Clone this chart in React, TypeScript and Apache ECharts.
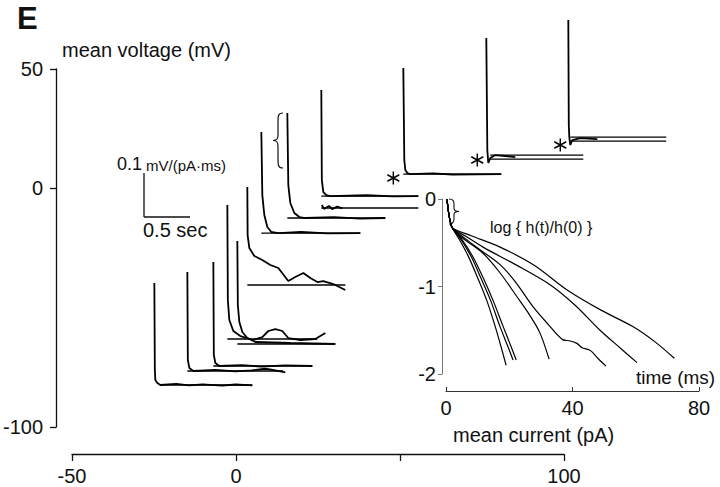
import React, { useEffect, useRef } from "react";
import * as echarts from "echarts";

// ---- axes ----
const voltageTicks = [-100, 0, 50];
const currentTicks = [-50, 0, 50, 100];
const currentLabels = [-50, 0, 100];
const timeTicks = [0, 40, 80];
const logTicks = [-2, -1, 0];

// ---- response traces, placed at (mean current pA, mean voltage mV) ----
const trace1 = [[-24.64, -39.67], [-24.49, -76.12], [-24.34, -80.31], [-23.73, -81.57], [-22.82, -82.4], [-18.0, -81.9], [-14.0, -82.6], [-10.0, -82.1], [-4.0, -82.7], [0.0, -82.2], [5.17, -82.6]];
const trace2 = [[-14.6, -35.06], [-14.45, -71.93], [-13.99, -75.28], [-12.78, -76.54], [-6.0, -76.1], [0.0, -76.7], [5.0, -76.3], [9.0, -75.6], [11.0, -76.0], [15.21, -77.1]];
const trace3 = [[-6.69, -30.88], [-6.54, -69.84], [-6.08, -73.19], [-4.87, -74.45], [2.0, -74.1], [8.0, -74.7], [15.0, -74.2], [23.43, -74.45]];
const trace4 = [[-2.43, -7.0], [-2.28, -46.8], [-1.83, -55.17], [-0.61, -59.78], [1.52, -61.88], [5.48, -63.55], [8.21, -62.3], [10.04, -59.78], [12.17, -58.95], [14.3, -59.78], [16.12, -62.72], [19.77, -63.55], [24.34, -63.13], [25.86, -61.88], [27.38, -60.63]];
const trace5 = [[0.61, -22.08], [0.76, -48.89], [1.22, -56.01], [2.13, -60.2], [3.65, -62.72], [6.08, -64.39], [16.73, -64.81], [30.42, -65.23]];
const trace6 = [[3.65, 0.54], [3.74, -19.56], [4.26, -25.01], [5.78, -28.36], [8.21, -30.04], [10.65, -32.13], [13.08, -33.39], [16.12, -38.84], [18.25, -37.16], [20.69, -35.49], [22.82, -37.58], [24.95, -39.26], [26.77, -38.84], [29.81, -40.09], [33.46, -42.61]];
const trace7 = [[7.91, 23.59], [8.21, -2.81], [8.82, -11.18], [9.74, -16.21], [10.95, -18.3], [13.08, -18.73], [20.0, -18.3], [28.0, -18.9], [38.03, -18.73]];
const trace8 = [[15.82, 31.55], [16.12, 1.38], [16.73, -6.16], [17.95, -10.35], [19.47, -12.03], [21.3, -12.44], [30.0, -12.1], [38.0, -12.7], [45.63, -12.44]];
const trace9 = [[26.16, 41.18], [26.32, 3.48], [26.77, -1.55], [27.68, -2.81], [28.9, -3.23], [40.0, -2.9], [48.0, -3.4], [55.67, -3.23]];
const trace9b = [[26.3, -7.0], [27.0, -8.6], [28.5, -7.4], [29.5, -8.7], [31.0, -7.6], [32.5, -8.4]];
const trace10 = [[51.11, 50.4], [51.41, 11.86], [51.72, 7.67], [52.33, 6.41], [53.24, 5.99], [60.0, 6.3], [66.0, 5.8], [80.92, 5.99]];
const trace11 = [[76.36, 62.97], [76.67, 16.05], [76.97, 10.6], [77.58, 12.69], [79.1, 13.95], [85.18, 13.11]];
const trace12 = [[101.31, 70.51], [101.46, 26.52], [101.61, 21.49], [101.92, 18.14], [102.53, 20.24], [104.96, 21.07], [110.13, 20.65]];

// straight reference lines: [start pA, end pA, level mV]
const refLines = [
  [-22.82, 5.17, -82.4],
  [-14.6, 14.6, -76.54],
  [-6.69, 23.43, -74.45],
  [-2.43, 24.95, -63.13],
  [0.61, 30.42, -65.23],
  [3.65, 33.46, -40.51],
  [7.91, 38.03, -18.73],
  [15.82, 45.63, -12.44],
  [26.16, 55.67, -3.23],
  [26.16, 55.67, -8.25],
  [51.11, 80.92, 5.99],
  [77.58, 105.87, 13.95],
  [77.58, 105.87, 12.27],
  [101.92, 131.12, 21.49],
  [101.92, 131.12, 19.82],
];

// asterisk marks (pA, mV)
const asterisks = [[48.07, 4.32], [73.62, 11.86], [98.87, 18.14]];

// ---- inset: log{h(t)/h(0)} vs time (ms) ----
const logCurve1 = [[0.3, 0], [0.8, -0.15], [1.3, -0.25], [2, -0.33], [4, -0.45], [7, -0.65], [10, -0.9], [13, -1.17], [15.5, -1.45], [17.5, -1.7], [19, -1.9]];
const logCurve2 = [[0.3, 0], [0.8, -0.15], [1.3, -0.25], [2, -0.33], [4.5, -0.45], [8, -0.66], [11, -0.9], [14, -1.15], [17, -1.45], [19.5, -1.68], [21.2, -1.84]];
const logCurve3 = [[0.3, 0], [0.8, -0.15], [1.3, -0.25], [2, -0.33], [5, -0.46], [8.5, -0.66], [12, -0.92], [15, -1.17], [18, -1.45], [20.5, -1.68], [22.2, -1.84]];
const logCurve4 = [[0.3, 0], [0.8, -0.15], [1.3, -0.25], [2, -0.33], [5, -0.44], [11.7, -0.62], [17, -0.84], [22.5, -1.12], [26.5, -1.33], [29.7, -1.53], [32.6, -1.83]];
const logCurve5 = [[0.3, 0], [0.8, -0.15], [1.3, -0.25], [2, -0.33], [6, -0.45], [10, -0.56], [17.1, -0.75], [22, -0.95], [27.5, -1.23], [32, -1.42], [37, -1.61], [39, -1.62], [41.4, -1.65], [43, -1.7], [45.6, -1.73], [48, -1.82], [50.6, -1.91]];
const logCurve6 = [[0.3, 0], [0.8, -0.15], [1.3, -0.25], [2, -0.33], [6, -0.42], [11.7, -0.55], [22, -0.75], [32.9, -0.98], [41, -1.22], [48.7, -1.5], [55, -1.7], [60.4, -1.87]];
const logCurve7 = [[0.3, 0], [0.8, -0.15], [1.3, -0.25], [2, -0.33], [8, -0.42], [17.1, -0.55], [28, -0.76], [38.3, -1.04], [49, -1.27], [59.2, -1.46], [66, -1.63], [72.2, -1.82]];

const FONT = '"Liberation Sans", Arial, Helvetica, sans-serif';

const leftBrace = "M10,0 C5,0 5,3 5,9 L5,22 C5,26 4,27.5 0,27.5 C4,27.5 5,29 5,33 L5,46 C5,52 5,55 10,55";
const rightBrace = "M0,0 C4,0 5,2 5,5 L5,9 C5,11.5 6,12.5 10,12.5 C6,12.5 5,13.5 5,16 L5,20 C5,23 4,25 0,25";

let registered = false;
function registerShapes() {
  if (registered) return;
  echarts.graphic.registerShape("leftBrace", echarts.graphic.extendPath(leftBrace, {}));
  echarts.graphic.registerShape("rightBrace", echarts.graphic.extendPath(rightBrace, {}));
  registered = true;
}

// main plot frame (px) and an overlay with the same scale but wider range for traces
const MAIN = { left: 71, top: 69, width: 493, height: 358 };
const pxPerPA = MAIN.width / 150;
const pxPerMV = MAIN.height / 150;
const overlayX = [-50, 140];
const overlayY = [-100, 75];

export default function App() {
  const ref = useRef<HTMLDivElement>(null);

  useEffect(() => {
    if (!ref.current) return;
    registerShapes();
    const chart = echarts.init(ref.current, null, { renderer: "svg" });

    const traces = [trace1, trace2, trace3, trace4, trace5, trace6, trace7, trace8, trace9, trace9b, trace10, trace11, trace12];
    const logCurves = [logCurve1, logCurve2, logCurve3, logCurve4, logCurve5, logCurve6, logCurve7];

    const series: any[] = [];
    traces.forEach((t) =>
      series.push({
        type: "line",
        xAxisIndex: 2,
        yAxisIndex: 2,
        data: t,
        symbol: "none",
        clip: false,
        silent: true,
        lineStyle: { color: "#000", width: 1.8 },
      })
    );
    refLines.forEach(([x0, x1, y]) =>
      series.push({
        type: "line",
        xAxisIndex: 2,
        yAxisIndex: 2,
        data: [[x0, y], [x1, y]],
        symbol: "none",
        clip: false,
        silent: true,
        lineStyle: { color: "#000", width: 1.3 },
      })
    );
    series.push({
      type: "scatter",
      xAxisIndex: 2,
      yAxisIndex: 2,
      data: asterisks,
      clip: false,
      silent: true,
      symbol: "path://M0,-6L0,6M-5.2,-3L5.2,3M-5.2,3L5.2,-3",
      symbolSize: [12, 13],
      itemStyle: { color: "none", borderColor: "#000", borderWidth: 1.5, opacity: 1 },
    });
    logCurves.forEach((c) =>
      series.push({
        type: "line",
        xAxisIndex: 1,
        yAxisIndex: 1,
        data: c,
        symbol: "none",
        smooth: 0.3,
        clip: false,
        silent: true,
        lineStyle: { color: "#000", width: 1.2 },
      })
    );

    const txt = (text: string, x: number, y: number, size: number, extra: any = {}) => ({
      type: "text",
      x,
      y,
      silent: true,
      style: {
        text,
        fill: "#111",
        font: `${extra.bold ? "bold " : ""}${size}px ${FONT}`,
        textVerticalAlign: "middle",
        textAlign: extra.align || "left",
      },
    });

    const ovWidth = (overlayX[1] - overlayX[0]) * pxPerPA;
    const ovHeight = (overlayY[1] - overlayY[0]) * pxPerMV;
    const ovTop = MAIN.top + MAIN.height - ovHeight;

    chart.setOption({
      animation: false,
      backgroundColor: "#fff",
      textStyle: { fontFamily: FONT },
      grid: [
        { left: MAIN.left, top: MAIN.top, width: MAIN.width, height: MAIN.height },
        { left: 446, right: 21, top: 199, bottom: 113 },
        { left: MAIN.left, top: ovTop, width: ovWidth, height: ovHeight },
      ],
      xAxis: [
        {
          type: "value",
          gridIndex: 0,
          min: -50,
          max: 100,
          interval: 50,
          position: "bottom",
          offset: 27,
          splitLine: { show: false },
          axisLine: { onZero: false, lineStyle: { color: "#111", width: 1.3 } },
          axisTick: { length: 7, customValues: currentTicks, lineStyle: { color: "#111", width: 1.3 } },
          axisLabel: { customValues: currentLabels, color: "#111", fontSize: 20, margin: 12, fontFamily: FONT },
        },
        {
          type: "value",
          gridIndex: 1,
          min: 0,
          max: 80,
          interval: 40,
          position: "bottom",
          offset: 17,
          splitLine: { show: false },
          axisLine: { onZero: false, lineStyle: { color: "#333", width: 1 } },
          axisTick: { inside: true, length: 4, customValues: timeTicks, lineStyle: { color: "#333", width: 1 } },
          axisLabel: { customValues: timeTicks, color: "#111", fontSize: 20, margin: 7, fontFamily: FONT },
        },
        {
          type: "value",
          gridIndex: 2,
          min: overlayX[0],
          max: overlayX[1],
          show: false,
        },
      ],
      yAxis: [
        {
          type: "value",
          gridIndex: 0,
          min: -100,
          max: 50,
          interval: 50,
          offset: 16,
          splitLine: { show: false },
          axisLine: { show: true, onZero: false, lineStyle: { color: "#111", width: 1.3 } },
          axisTick: { show: true, length: 6, customValues: voltageTicks, lineStyle: { color: "#111", width: 1.3 } },
          axisLabel: { customValues: voltageTicks, color: "#111", fontSize: 20, margin: 13, fontFamily: FONT },
        },
        {
          type: "value",
          gridIndex: 1,
          min: -2,
          max: 0,
          interval: 1,
          offset: 4,
          splitLine: { show: false },
          axisLine: { show: true, onZero: false, lineStyle: { color: "#777", width: 1 } },
          axisTick: { show: true, length: 4, customValues: logTicks, lineStyle: { color: "#777", width: 1 } },
          axisLabel: { customValues: logTicks, color: "#111", fontSize: 20, margin: 6, fontFamily: FONT },
        },
        {
          type: "value",
          gridIndex: 2,
          min: overlayY[0],
          max: overlayY[1],
          show: false,
        },
      ],
      graphic: [
        txt("E", 17, 18, 31, { bold: true }),
        txt("mean voltage (mV)", 62, 50, 20),
        txt("0.1", 117, 164, 18),
        txt("mV/(pA·ms)", 146, 165, 15),
        txt("0.5 sec", 143, 230, 20),
        txt("log { h(t)/h(0) }", 490, 227, 16),
        txt("time (ms)", 636, 377, 19),
        txt("mean current (pA)", 453, 435, 20),
        {
          type: "line",
          silent: true,
          shape: { x1: 144, y1: 173, x2: 144, y2: 217 },
          style: { stroke: "#111", lineWidth: 1.3 },
        },
        {
          type: "line",
          silent: true,
          shape: { x1: 144, y1: 217, x2: 190, y2: 217 },
          style: { stroke: "#111", lineWidth: 1.3 },
        },
        {
          type: "leftBrace",
          x: 273,
          y: 113,
          silent: true,
          style: { stroke: "#111", fill: "none", lineWidth: 1.2 },
        },
        {
          type: "rightBrace",
          x: 449,
          y: 199,
          silent: true,
          style: { stroke: "#111", fill: "none", lineWidth: 1.1 },
        },
      ],
      series,
    });

    return () => chart.dispose();
  }, []);

  return (
    <div
      ref={ref}
      style={{ position: "fixed", left: 0, top: 0, width: 720, height: 487, background: "#fff" }}
    />
  );
}
